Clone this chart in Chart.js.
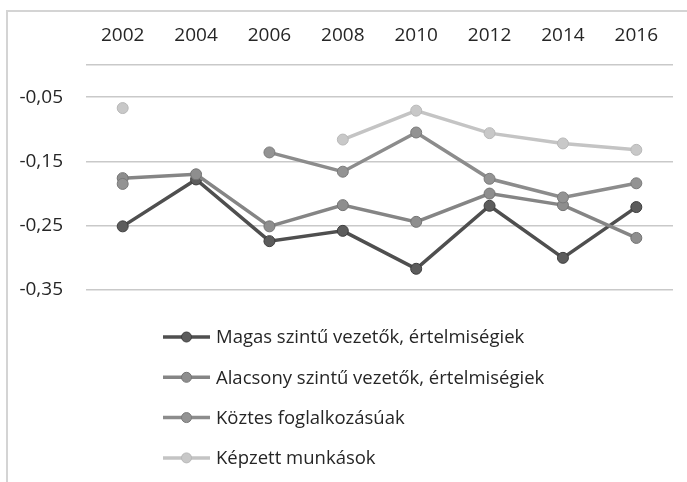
<!DOCTYPE html>
<html>
<head>
<meta charset="utf-8">
<script src="https://cdn.jsdelivr.net/npm/chart.js@4/dist/chart.umd.min.js"></script>
<style>
  html, body { margin: 0; padding: 0; background: #ffffff; }
  #wrap { position: relative; width: 687px; height: 482px; }
</style>
</head>
<body>
<div id="wrap"><canvas id="c" width="687" height="482"></canvas></div>
<script>
// ---- Data ----
const years = ['2002', '2004', '2006', '2008', '2010', '2012', '2014', '2016'];
const seriesNames = [
  'Magas szintű vezetők, értelmiségiek',
  'Alacsony szintű vezetők, értelmiségiek',
  'Köztes foglalkozásúak',
  'Képzett munkások'
];
const magas    = [-0.251, -0.178, -0.274, -0.258, -0.317, -0.219, -0.300, -0.221];
const alacsony = [-0.176, -0.170, -0.251, -0.218, -0.244, -0.200, -0.218, -0.269];
const koztes   = [-0.185, null,   -0.136, -0.166, -0.105, -0.177, -0.206, -0.184];
const kepzett  = [-0.067, null,   null,   -0.116, -0.071, -0.106, -0.122, -0.132];
const yTickValues = [-0.35, -0.25, -0.15, -0.05, 0];

const lineColors  = ['#4f4f4f', '#858585', '#8c8c8c', '#c4c4c4'];
const pointFills  = ['#5c5c5c', '#8e8e8e', '#939393', '#c8c8c8'];
const pointBorders= ['#3e3e3e', '#737373', '#7a7a7a', '#b8b8b8'];
const allSeries = [magas, alacsony, koztes, kepzett];

const FONT = '"Open Sans", "DejaVu Sans", sans-serif';

const datasets = allSeries.map((vals, i) => ({
  label: seriesNames[i],
  data: vals,
  borderColor: lineColors[i],
  backgroundColor: pointFills[i],
  pointBackgroundColor: pointFills[i],
  pointBorderColor: pointBorders[i],
  pointBorderWidth: 1,
  pointRadius: 5.5,
  borderWidth: 3.5,
  tension: 0,
  spanGaps: false,
  order: allSeries.length - i
}));

const framePlugin = {
  id: 'frame',
  beforeDraw(chart) {
    const ctx = chart.ctx;
    ctx.save();
    ctx.strokeStyle = '#d4d4d4';
    ctx.lineWidth = 2;
    ctx.beginPath();
    ctx.moveTo(7, 482);
    ctx.lineTo(7, 11);
    ctx.lineTo(687, 11);
    ctx.stroke();
    ctx.restore();
  }
};

const legendPlugin = {
  id: 'vlegend',
  afterDraw(chart) {
    const ctx = chart.ctx;
    ctx.save();
    const x0 = 163, lineLen = 47, y0 = 337, step = 40.3;
    chart.data.datasets.forEach((ds, i) => {
      const y = y0 + i * step;
      ctx.strokeStyle = ds.borderColor;
      ctx.lineWidth = 3.5;
      ctx.beginPath();
      ctx.moveTo(x0, y);
      ctx.lineTo(x0 + lineLen, y);
      ctx.stroke();
      ctx.beginPath();
      ctx.arc(x0 + lineLen / 2, y, 5, 0, Math.PI * 2);
      ctx.fillStyle = ds.pointBackgroundColor;
      ctx.fill();
      ctx.lineWidth = 1;
      ctx.strokeStyle = ds.pointBorderColor;
      ctx.stroke();
      ctx.fillStyle = '#262626';
      ctx.font = '18.5px ' + FONT;
      ctx.textBaseline = 'middle';
      ctx.textAlign = 'left';
      ctx.fillText(ds.label, x0 + lineLen + 6, y + 1);
    });
    ctx.restore();
  }
};

new Chart(document.getElementById('c'), {
  type: 'line',
  data: { labels: years, datasets },
  plugins: [framePlugin, legendPlugin],
  options: {
    responsive: false,
    devicePixelRatio: 1,
    animation: false,
    layout: { padding: { left: 0, top: 0, right: 14, bottom: 192 } },
    plugins: { legend: { display: false }, tooltip: { enabled: false } },
    scales: {
      x: {
        position: 'top',
        offset: true,
        grid: { display: false, drawTicks: false },
        border: { display: false },
        ticks: { color: '#262626', font: { family: FONT, size: 19 }, padding: 18, maxRotation: 0 },
        afterFit(scale) { scale.height = 65; }
      },
      y: {
        min: -0.35,
        max: 0,
        afterBuildTicks(scale) { scale.ticks = yTickValues.map(v => ({ value: v })); },
        grid: { color: '#c9c9c9', lineWidth: 1.5, drawTicks: false },
        border: { display: false },
        ticks: {
          color: '#262626',
          font: { family: FONT, size: 19 },
          padding: 23,
          callback: (v) => (v === 0 ? '' : Number(v).toFixed(2).replace('.', ','))
        },
        afterFit(scale) { scale.width = 86; }
      }
    }
  }
});
</script>
</body>
</html>
